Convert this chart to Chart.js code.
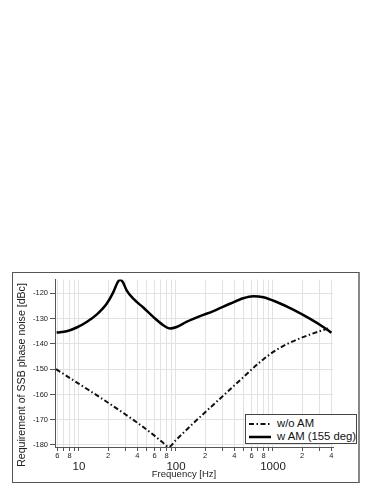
<!DOCTYPE html>
<html>
<head>
<meta charset="utf-8">
<script src="https://cdn.jsdelivr.net/npm/chart.js@4"></script>
<style>
  html, body { margin: 0; padding: 0; background: #fff; width: 382px; height: 494px; overflow: hidden; }
  #box { position: absolute; left: 12px; top: 272px; width: 348px; height: 211px; box-sizing: border-box;
         border: 1px solid #555; border-right: 2px solid #888; background: #fff; }
  #c { position: absolute; left: 0; top: 0; }
  #legend { position: absolute; left: 245px; top: 414px; width: 112px; height: 30px; box-sizing: border-box;
            border: 1px solid #444; background: #fff; font-family: "Liberation Sans", Arial, sans-serif;
            font-size: 11.3px; color: #111; }
  .row { position: absolute; left: 2px; height: 13px; line-height: 13px; white-space: nowrap; }
  .row svg { position: absolute; left: 0; top: 0; }
  .row span { position: absolute; left: 29px; top: 0; }
</style>
</head>
<body>
<div id="box"><canvas id="c" width="345" height="209"></canvas></div>
<div id="legend">
  <div class="row" style="top:2px"><svg width="24" height="13"><line x1="1" y1="7" x2="23" y2="7" stroke="#111" stroke-width="2" stroke-dasharray="5 2.5 1.5 2.5"/></svg><span>w/o AM</span></div>
  <div class="row" style="top:15px"><svg width="24" height="13"><line x1="1" y1="7" x2="23" y2="7" stroke="#000" stroke-width="2.5"/></svg><span>w AM (155 deg)</span></div>
</div>
<script>
// ---- data ----
const freqWoAM = [5.8, 10, 19.3, 39.3, 60, 75, 84, 100, 150, 307, 494, 734, 1091, 1600, 2400, 3872];
const dbWoAM   = [-150, -155.8, -162.9, -171, -176.3, -179.4, -180.8, -178, -171.5, -160.5, -153.2, -147.2, -142.3, -139, -136.3, -133.6];

const freqWAM = [5.88, 7.46, 9.47, 12.0, 15.2, 19.3, 22.6, 24.8, 26.5, 28.3, 31.0, 36.3, 46.0, 58.3, 74.0, 86.6, 101.6, 128, 177, 243, 360, 494, 625, 795, 1091, 1615, 2394, 3300, 4008];
const dbWAM   = [-135.5, -135.0, -133.5, -131.3, -128.4, -124.1, -119.5, -115.9, -114.6, -115.5, -118.8, -122.1, -125.6, -129.3, -132.6, -133.9, -133.3, -131.3, -129, -127, -124.1, -121.9, -121.1, -121.5, -123.4, -126.4, -130, -133.3, -135.6];

const xTickValues = [6, 7, 8, 9, 10, 20, 30, 40, 50, 60, 70, 80, 90, 100, 200, 300, 400, 500, 600, 700, 800, 900, 1000, 2000, 3000, 4000];
const xDecadeValues = [10, 100, 1000];
const yTickValues = [-120, -130, -140, -150, -160, -170, -180];

const seriesNames = ['w/o AM', 'w AM (155 deg)'];
const xTitle = 'Frequency [Hz]';
const yTitle = 'Requirement of SSB phase noise [dBc]';

const FONT = '"Liberation Sans", Arial, Helvetica, sans-serif';

function mantissa(v) {
  const e = Math.floor(Math.log10(v) + 1e-9);
  return Math.round(v / Math.pow(10, e));
}

const titlePlugin = {
  id: 'titles',
  afterDraw(chart) {
    const ctx = chart.ctx;
    ctx.save();
    ctx.fillStyle = '#222';
    ctx.textAlign = 'center';
    ctx.textBaseline = 'middle';
    ctx.font = '9.5px ' + FONT;
    ctx.fillText(xTitle, 171, 201.5);
    ctx.translate(9.5, 102);
    ctx.rotate(-Math.PI / 2);
    ctx.font = '10.6px ' + FONT;
    ctx.fillText(yTitle, 0, 0);
    ctx.restore();
  }
};

new Chart(document.getElementById('c'), {
  type: 'line',
  data: {
    datasets: [
      {
        label: seriesNames[0],
        data: freqWoAM.map((f, i) => ({ x: f, y: dbWoAM[i] })),
        borderColor: '#111',
        borderWidth: 2,
        borderDash: [5, 2.5, 1.5, 2.5],
        pointRadius: 0,
        cubicInterpolationMode: 'monotone',
        fill: false
      },
      {
        label: seriesNames[1],
        data: freqWAM.map((f, i) => ({ x: f, y: dbWAM[i] })),
        borderColor: '#000',
        borderWidth: 2.5,
        pointRadius: 0,
        cubicInterpolationMode: 'monotone',
        fill: false
      }
    ]
  },
  options: {
    responsive: false,
    animation: false,
    devicePixelRatio: 1,
    layout: { padding: { top: 6, right: 25, left: 0, bottom: 0 } },
    plugins: { legend: { display: false }, tooltip: { enabled: false } },
    scales: {
      x: {
        type: 'logarithmic',
        position: 'bottom',
        min: 5.66,
        max: 4156,
        afterBuildTicks: s => { s.ticks = xTickValues.map(v => ({ value: v })); },
        afterFit: s => { s.height = 12; },
        grid: { color: '#e2e2e2', lineWidth: 1, tickLength: 4, tickColor: '#555', drawTicks: true },
        border: { display: true, color: '#555', width: 1 },
        ticks: {
          autoSkip: false, maxRotation: 0, minRotation: 0, padding: 0,
          color: '#222',
          font: { family: FONT, size: 7.5 },
          callback: v => { const m = mantissa(v); return [2, 4, 6, 8].includes(m) ? String(m) : ''; }
        }
      },
      x2: {
        type: 'logarithmic',
        position: 'bottom',
        min: 5.66,
        max: 4156,
        afterBuildTicks: s => { s.ticks = xDecadeValues.map(v => ({ value: v })); },
        afterFit: s => { s.height = 23; },
        grid: { display: false, drawTicks: false },
        border: { display: false },
        ticks: {
          autoSkip: false, maxRotation: 0, minRotation: 0, padding: 1,
          color: '#222',
          font: { family: FONT, size: 11.5 },
          callback: v => String(v)
        }
      },
      y: {
        type: 'linear',
        min: -180.8,
        max: -114.5,
        afterBuildTicks: s => { s.ticks = yTickValues.map(v => ({ value: v })); },
        afterFit: s => { s.width = 42; },
        grid: { color: '#e2e2e2', lineWidth: 1, tickLength: 5, tickColor: '#555' },
        border: { display: true, color: '#555', width: 1 },
        ticks: {
          padding: 2,
          color: '#222',
          font: { family: FONT, size: 7.5 },
          callback: v => String(v)
        }
      }
    }
  },
  plugins: [titlePlugin]
});
</script>
</body>
</html>
